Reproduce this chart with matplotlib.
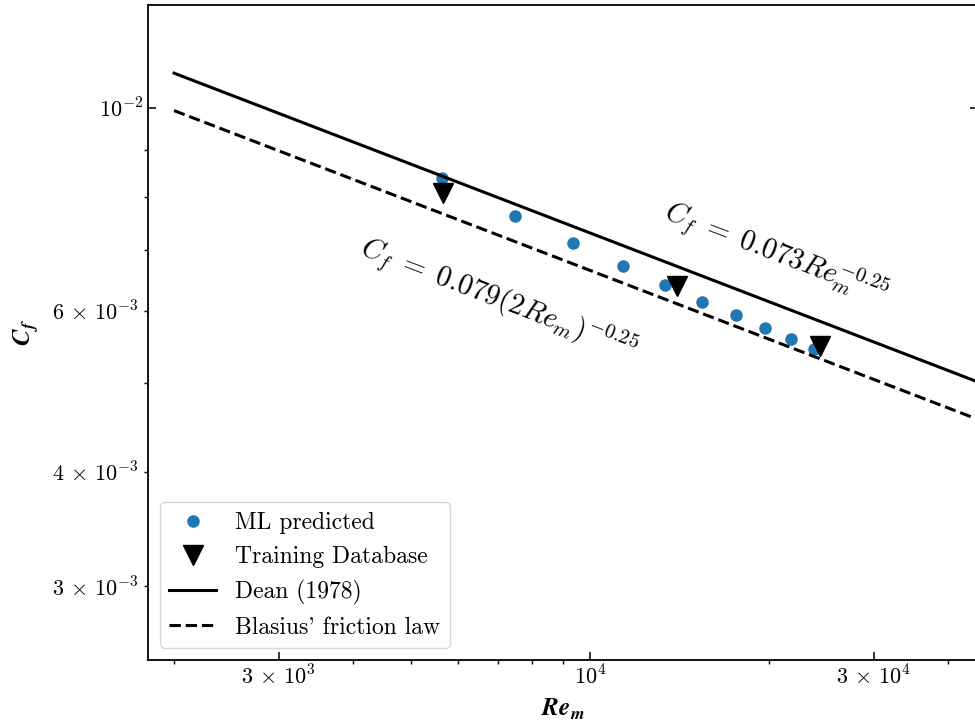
import numpy as np
import matplotlib
matplotlib.use('Agg')
import matplotlib.pyplot as plt
from matplotlib.ticker import FixedLocator, FuncFormatter, NullFormatter

plt.rcParams['font.family'] = 'serif'
plt.rcParams['font.serif'] = ['cmr10']
plt.rcParams['mathtext.fontset'] = 'cm'
plt.rcParams['axes.unicode_minus'] = False
plt.rcParams['axes.formatter.use_mathtext'] = True

# ML predictions
re_ml = [5630, 7480, 9360, 11350, 13370, 15440, 17580, 19680, 21750, 23790]
cf_ml = [0.00838, 0.00762, 0.00711, 0.00672, 0.00641, 0.00614, 0.00593, 0.00575, 0.00559, 0.00545]

# training cases
re_train = [5660, 14030, 24320]
cf_train = [0.00808, 0.00638, 0.00549]

# correlations
re_line = np.array([2000, 60000])
cf_dean = 0.073 * re_line ** -0.25
cf_blasius = 0.079 * (2 * re_line) ** -0.25

fig = plt.figure(figsize=(9.75, 7.24), dpi=100)
ax = fig.add_axes([148/975, 64/724, 830/975, 655/724])

ax.plot(re_ml, cf_ml, 'o', color='#1f77b4', ms=8, label='ML predicted')
ax.plot(re_train, cf_train, 'v', color='k', ms=15, label='Training Database')
ax.plot(re_line, cf_dean, '-', color='k', lw=2.2, label='Dean (1978)')
ax.plot(re_line, cf_blasius, '--', color='k', lw=2.2, label="Blasius' friction law")

ax.set_xscale('log')
ax.set_yscale('log')
ax.set_xlim(1808, 44900)
ax.set_ylim(2.49e-3, 1.296e-2)

ax.text(20540, 0.00694, r'$C_f\;=\;0.073Re_m^{-0.25}$', fontsize=21,
        rotation=-21, rotation_mode='anchor', ha='center', va='center')
ax.text(7031, 0.00618, r'$C_f\;=\;0.079(2Re_m)^{-0.25}$', fontsize=21,
        rotation=-21, rotation_mode='anchor', ha='center', va='center')

def sci(v, pos):
    e = int(np.floor(np.log10(v) + 1e-9))
    m = v / 10.0 ** e
    if abs(m - 1) < 1e-6:
        return r'$10^{%d}$' % e
    return r'$%d\,\times\,10^{%d}$' % (round(m), e)

def y_minor(v, pos):
    e = int(np.floor(np.log10(v) + 1e-9))
    m = round(v / 10.0 ** e)
    if m in (3, 4, 6):
        return sci(v, pos)
    return ''

ax.xaxis.set_major_locator(FixedLocator([3e3, 1e4, 3e4]))
ax.xaxis.set_major_formatter(FuncFormatter(sci))
ax.xaxis.set_minor_locator(FixedLocator([2e3, 4e3, 5e3, 6e3, 7e3, 8e3, 9e3, 2e4, 4e4]))
ax.xaxis.set_minor_formatter(NullFormatter())

ax.yaxis.set_major_locator(FixedLocator([1e-2]))
ax.yaxis.set_major_formatter(FuncFormatter(sci))
ax.yaxis.set_minor_locator(FixedLocator([3e-3, 4e-3, 5e-3, 6e-3, 7e-3, 8e-3, 9e-3]))
ax.yaxis.set_minor_formatter(FuncFormatter(y_minor))

ax.tick_params(which='major', direction='in', length=6, width=1.1, labelsize=16, right=True)
ax.tick_params(which='minor', direction='out', length=3, width=1.0, labelsize=16)
for s in ax.spines.values():
    s.set_linewidth(1.3)

ax.set_xlabel(r'$\boldsymbol{Re}_{\boldsymbol{m}}$', fontsize=18, labelpad=6)
ax.set_ylabel(r'$\boldsymbol{C}_{\boldsymbol{f}}$', fontsize=18, labelpad=8)

ax.legend(loc='lower left', fontsize=17)

fig.savefig('out.png', dpi=100)
